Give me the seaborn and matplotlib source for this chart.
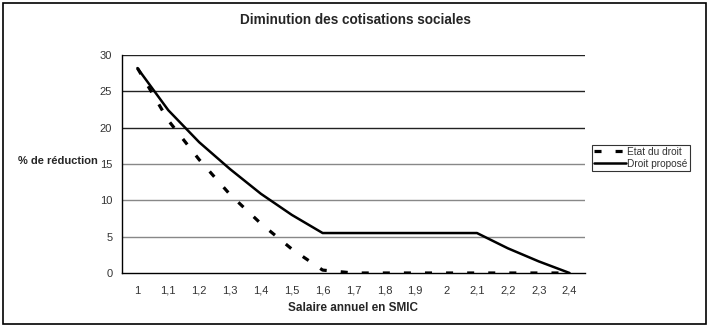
import matplotlib
matplotlib.use("Agg")
import matplotlib.pyplot as plt
import seaborn as sns
import pandas as pd
import numpy as np
from matplotlib.patches import Rectangle

categories = ["1", "1,1", "1,2", "1,3", "1,4", "1,5", "1,6", "1,7", "1,8", "1,9",
              "2", "2,1", "2,2", "2,3", "2,4"]
etat_du_droit = [28.2, 21.0, 15.6, 10.8, 6.8, 3.3, 0.4, 0, 0, 0, 0, 0, 0, 0, 0]
droit_propose = [28.2, 22.4, 18.0, 14.3, 10.9, 8.0, 5.5, 5.5, 5.5, 5.5, 5.5, 5.5, 3.4, 1.6, 0]

sns.set_theme(style="white")
plt.rcParams['font.family'] = ['Liberation Sans', 'DejaVu Sans']

df = pd.DataFrame({
    "pos": list(range(len(categories))) * 2,
    "val": etat_du_droit + droit_propose,
    "serie": ["Etat du droit"] * len(categories) + ["Droit proposé"] * len(categories),
})

fig = plt.figure(figsize=(7.12, 3.29), dpi=100)
ax = fig.add_axes([122/712, 1 - 273/329, (585-122)/712, (273-55)/329])

for y in range(5, 31, 5):
    ax.axhline(y, color="#222222" if y in (20, 25, 30) else "#888888", lw=1.0, zorder=1)

sns.lineplot(data=df[df.serie == "Etat du droit"], x="pos", y="val", ax=ax,
             color="black", lw=2.3, linestyle=(0, (2.2, 4.4)), label="Etat du droit", zorder=3)
sns.lineplot(data=df[df.serie == "Droit proposé"], x="pos", y="val", ax=ax,
             color="black", lw=1.8, label="Droit proposé", zorder=3)

ax.set_xlim(-0.5, len(categories) - 0.5)
ax.set_ylim(0, 30)
ax.set_yticks(range(0, 31, 5))
ax.set_yticklabels([str(v) for v in range(0, 31, 5)], fontsize=8, color="#333333")
ax.set_xticks(range(len(categories)))
ax.set_xticklabels(categories, fontsize=8, color="#333333")
ax.set_xticks(np.arange(-0.5, len(categories), 1), minor=True)
ax.tick_params(axis="x", which="major", length=0, pad=9)
ax.tick_params(axis="x", which="minor", length=4, width=1, color="black", direction="out")
ax.tick_params(axis="y", which="major", length=4, width=1, color="black", direction="out", pad=3)

for s in ["top", "right"]:
    ax.spines[s].set_visible(False)
for s in ["left", "bottom"]:
    ax.spines[s].set_color("black")
    ax.spines[s].set_linewidth(1.0)

ax.set_xlabel("Salaire annuel en SMIC", fontsize=8.5, fontweight="bold", labelpad=5)
ax.set_ylabel("")
fig.text(58/712, 1 - 161/329, "% de réduction", fontsize=8, fontweight="bold",
         ha="center", va="center")
fig.text(355/712, 1 - 20/329, "Diminution des cotisations sociales", fontsize=9.8,
         fontweight="bold", ha="center", va="center")

leg = ax.legend(loc="center left", bbox_to_anchor=(592/712, 1 - 158/329),
                bbox_transform=fig.transFigure, fontsize=7.3, frameon=True,
                fancybox=False, edgecolor="black", borderpad=0.2, handlelength=3.2,
                handletextpad=0.1, labelspacing=0.2, borderaxespad=0)
leg.get_frame().set_linewidth(0.8)
for t in leg.get_texts():
    t.set_color("#333333")

fig.patches.append(Rectangle((3/712, 1 - 324/329), (706-3)/712, (324-3)/329,
                             transform=fig.transFigure, fill=False,
                             edgecolor="black", lw=1.2))

fig.savefig("out.png", dpi=100, facecolor="white")
